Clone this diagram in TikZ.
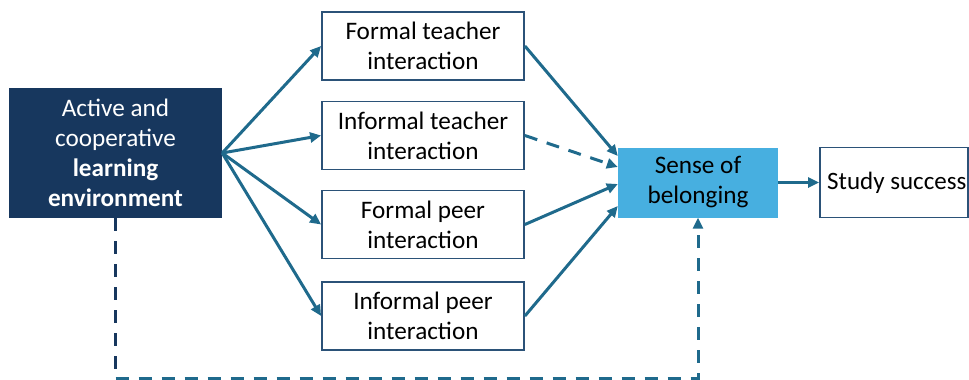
\documentclass[tikz,border=0pt]{standalone}
\usepackage{fontspec}
\setmainfont{Carlito}
\usetikzlibrary{arrows.meta,calc}
\definecolor{navy}{HTML}{17375E}
\definecolor{framecol}{HTML}{2B5278}
\definecolor{arrowcol}{HTML}{1F6A8C}
\definecolor{skyfill}{HTML}{47AFE0}
\begin{document}
\begin{tikzpicture}[x=1pt,y=-1pt,
  txt/.style={font=\fontsize{25.2}{30}\selectfont, align=center, inner sep=0pt},
  darkbox/.style={txt, fill=navy, text=white, draw=none, minimum width=213pt, minimum height=130pt},
  midbox/.style={txt, fill=white, draw=framecol, line width=1.8pt, minimum width=202pt, minimum height=68pt},
  skybox/.style={txt, fill=skyfill, draw=none, minimum width=160pt, minimum height=70pt},
  outbox/.style={fill=white, draw=framecol, line width=1.8pt, minimum width=148pt, minimum height=70pt, inner sep=0pt},
  link/.style={draw=arrowcol, line width=3pt, -{Triangle[length=11pt,width=10pt]}},
  dlink/.style={link, dash pattern=on 13pt off 10pt}]
  \useasboundingbox (0,0) rectangle (969,380);
  \begin{scope}
  \clip (0,0) rectangle (969,380);

  % source box
  \node[darkbox] (env) at (115.5,153) {Active and\\cooperative\\\textbf{learning}\\\textbf{environment}};

  % interaction boxes
  \node[midbox] (ft) at (423,46)    {Formal teacher\\interaction};
  \node[midbox] (it) at (423,135.5) {Informal teacher\\interaction};
  \node[midbox] (fp) at (423,224.5) {Formal peer\\interaction};
  \node[midbox] (ip) at (423,316)   {Informal peer\\interaction};

  % mediator and outcome
  \node[skybox] (sob) at (698,182.5) {Sense of\\belonging};
  \node[outbox] (ss) at (894,182.5) {};
  \node[txt, anchor=west, font=\fontsize{25}{30}\selectfont] (sstext) at (827,183) {Study success};

  % paths from the learning environment
  \draw[link] (env.east) -- (ft.west);
  \draw[link] (env.east) -- (it.west);
  \draw[link] (env.east) -- (fp.west);
  \draw[link] (env.east) -- (ip.west);

  % paths into sense of belonging
  \draw[link]  (ft.east) -- ([yshift=26.5pt]sob.west);
  \draw[dlink] (it.east) -- ([yshift=15.5pt]sob.west);
  \draw[link]  (fp.east) -- ([yshift=-1.5pt]sob.west);
  \draw[link]  (ip.east) -- ([yshift=-23.5pt]sob.west);

  % outcome
  \draw[link] (sob.east) -- (ss.west);

  % direct dashed path along the bottom
  \coordinate (base) at (0,378);
  \draw[navy, line width=2.4pt, dash pattern=on 13pt off 10pt] (env.south) -- (env.south |- base);
  \draw[dlink] (env.south |- base) -| (sob.south);
  \end{scope}
\end{tikzpicture}
\end{document}
